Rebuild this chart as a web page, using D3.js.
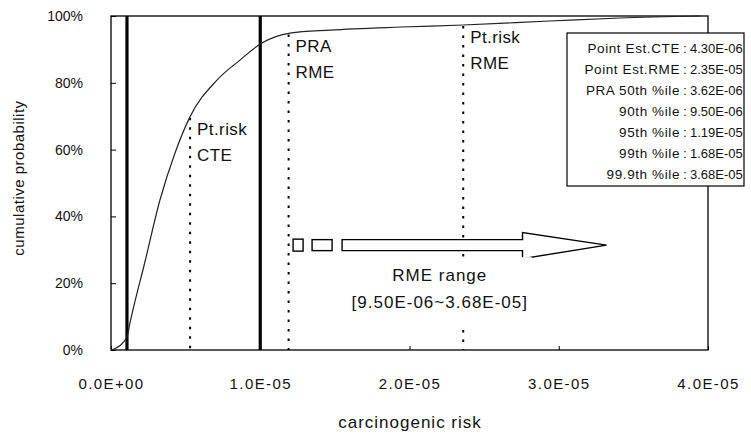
<!DOCTYPE html>
<meta charset="utf-8">
<style>
body { margin: 0; background: #fff; }
text { font-family: "Liberation Sans", Arial, sans-serif; fill: #111; }
.axis line { stroke: #000; }
.axis path { display: none; }
</style>
<body>
<script src="https://cdn.jsdelivr.net/npm/d3@7"></script>
<script>

var width = 751, height = 439;

// cumulative distribution (risk in units of 1e-6, cumulative %)
var riskE6 = [0, 0.2, 1.07, 1.27, 2.28, 3.28, 4.29, 5.29, 7.1, 8.64, 10.1, 12.0, 14.7, 19.4, 23.6, 29.4, 34.1, 39.5];
var cumPct = [0, 0.3, 3.9, 8.1, 26.5, 44.9, 59.0, 69.8, 80.8, 86.8, 91.9, 94.9, 95.8, 96.7, 97.3, 98.5, 99.4, 100];

var xTicks = [0, 1e-5, 2e-5, 3e-5, 4e-5];
var xTickLabels = ["0.0E+00", "1.0E-05", "2.0E-05", "3.0E-05", "4.0E-05"];
var yTicks = [0, 20, 40, 60, 80, 100];
var yTickLabels = ["0%", "20%", "40%", "60%", "80%", "100%"];

// thick solid reference lines
var solidLines = [1.07e-6, 1.0e-5];
// dotted reference lines with their labels
var dottedLines = [5.3e-6, 1.19e-5, 2.36e-5];
var dottedLabels = [["Pt.risk", "CTE"], ["PRA", "RME"], ["Pt.risk", "RME"]];

var legendLabels = ["Point Est.CTE", "Point Est.RME", "PRA 50th %ile", "90th %ile", "95th %ile", "99th %ile", "99.9th %ile"];
var legendValues = ["4.30E-06", "2.35E-05", "3.62E-06", "9.50E-06", "1.19E-05", "1.68E-05", "3.68E-05"];

var rangeText = ["RME range", "[9.50E-06~3.68E-05]"];
var arrowFrom = 1.22e-5, arrowTo = 3.32e-5, arrowLevel = 31.4;

var data = riskE6.map(function(r, i) { return {x: r * 1e-6, y: cumPct[i]}; });

var svg = d3.select("body").append("svg")
    .attr("width", width)
    .attr("height", height);

var x = d3.scaleLinear().domain([0, 4e-5]).range([111, 708]);
var y = d3.scaleLinear().domain([0, 100]).range([350, 16]);

// axes (ticks point inward)
svg.append("g")
    .attr("class", "axis")
    .attr("transform", "translate(0,350)")
    .call(d3.axisBottom(x).tickValues(xTicks).tickSize(-4).tickPadding(28)
      .tickFormat(function(d, i) { return xTickLabels[i]; }))
  .selectAll("text")
    .style("font-size", "15px")
    .style("letter-spacing", "1.4px");

svg.append("g")
    .attr("class", "axis")
    .attr("transform", "translate(111,0)")
    .call(d3.axisLeft(y).tickValues(yTicks).tickSize(-5).tickPadding(28)
      .tickFormat(function(d, i) { return yTickLabels[i]; }))
  .selectAll("text")
    .style("font-size", "14px");

// frame
svg.append("rect")
    .attr("x", x(0)).attr("y", y(100))
    .attr("width", x(4e-5) - x(0)).attr("height", y(0) - y(100))
    .attr("fill", "none").attr("stroke", "#000").attr("stroke-width", 1.3);

// interpolate curve for dotted line tops
function curveAt(v) {
  for (var i = 1; i < data.length; i++) {
    if (data[i].x >= v) {
      var t = (v - data[i - 1].x) / (data[i].x - data[i - 1].x);
      return data[i - 1].y + t * (data[i].y - data[i - 1].y);
    }
  }
  return 100;
}

// dotted lines
svg.selectAll(".dotline")
  .data(dottedLines)
  .enter().append("line")
    .attr("class", "dotline")
    .attr("x1", function(d) { return x(d); })
    .attr("x2", function(d) { return x(d); })
    .attr("y1", function(d) { return y(curveAt(d)) + 1; })
    .attr("y2", y(0))
    .attr("stroke", "#000")
    .attr("stroke-width", 2)
    .attr("stroke-dasharray", "2.5,7");

dottedLines.forEach(function(d, i) {
  var top = y(curveAt(d));
  dottedLabels[i].forEach(function(s, j) {
    svg.append("text")
      .attr("x", x(d) + 7)
      .attr("y", top + 18 + j * 26)
      .style("font-size", "17px")
      .style("letter-spacing", "0.4px")
      .text(s);
  });
});

// thick solid lines
svg.selectAll(".thick")
  .data(solidLines)
  .enter().append("line")
    .attr("class", "thick")
    .attr("x1", function(d) { return x(d); })
    .attr("x2", function(d) { return x(d); })
    .attr("y1", y(100))
    .attr("y2", y(0))
    .attr("stroke", "#000")
    .attr("stroke-width", 3.2);

// cumulative curve
var line = d3.line()
    .x(function(d) { return x(d.x); })
    .y(function(d) { return y(d.y); })
    .curve(d3.curveMonotoneX);

svg.append("path")
    .datum(data)
    .attr("d", line)
    .attr("fill", "none")
    .attr("stroke", "#222")
    .attr("stroke-width", 1.2);

// arrow showing RME range
var ax0 = x(arrowFrom), ax1 = x(arrowTo), ay = y(arrowLevel);
svg.append("rect")
    .attr("x", ax0).attr("y", ay - 6).attr("width", 10).attr("height", 12)
    .attr("fill", "#fff").attr("stroke", "#000").attr("stroke-width", 1.4);
svg.append("rect")
    .attr("x", ax0 + 19).attr("y", ay - 5.5).attr("width", 20).attr("height", 11)
    .attr("fill", "#fff").attr("stroke", "#000").attr("stroke-width", 1.4);
var hx = ax1 - 84;
svg.append("path")
    .attr("d", "M" + (ax0 + 49) + "," + (ay - 5.5) + "L" + hx + "," + (ay - 5.5) +
               "L" + hx + "," + (ay - 12.5) + "L" + ax1 + "," + ay +
               "L" + hx + "," + (ay + 13.5) + "L" + hx + "," + (ay + 5.5) +
               "L" + (ax0 + 49) + "," + (ay + 5.5) + "Z")
    .attr("fill", "#fff").attr("stroke", "#000").attr("stroke-width", 1.4);

var cx = (ax0 + ax1) / 2 - 10;
svg.append("rect")
    .attr("x", cx - 92).attr("y", ay + 12).attr("width", 184).attr("height", 66)
    .attr("fill", "#fff");
rangeText.forEach(function(s, i) {
  svg.append("text")
    .attr("x", cx)
    .attr("y", ay + 36 + i * 27)
    .attr("text-anchor", "middle")
    .style("font-size", "17px")
    .style("letter-spacing", "1px")
    .text(s);
});

// legend box
var lg = svg.append("g").attr("transform", "translate(567,33)");
lg.append("rect")
    .attr("width", 177).attr("height", 153)
    .attr("fill", "#fff").attr("stroke", "#000").attr("stroke-width", 1.2);
legendLabels.forEach(function(s, i) {
  var ty = 20 + i * 21;
  lg.append("text").attr("x", 113).attr("y", ty).attr("text-anchor", "end")
    .style("font-size", "13.5px").style("letter-spacing", "0.6px").text(s);
  lg.append("text").attr("x", 118).attr("y", ty).attr("text-anchor", "middle")
    .style("font-size", "13.5px").text(":");
  lg.append("text").attr("x", 123).attr("y", ty)
    .style("font-size", "13px").text(legendValues[i]);
});

// axis titles
svg.append("text")
    .attr("x", 410).attr("y", 428)
    .attr("text-anchor", "middle")
    .style("font-size", "17px")
    .style("letter-spacing", "1px")
    .text("carcinogenic risk");

svg.append("text")
    .attr("transform", "translate(24,178) rotate(-90)")
    .attr("text-anchor", "middle")
    .style("font-size", "15px")
    .style("letter-spacing", "0.5px")
    .text("cumulative probability");

</script>
</body>
